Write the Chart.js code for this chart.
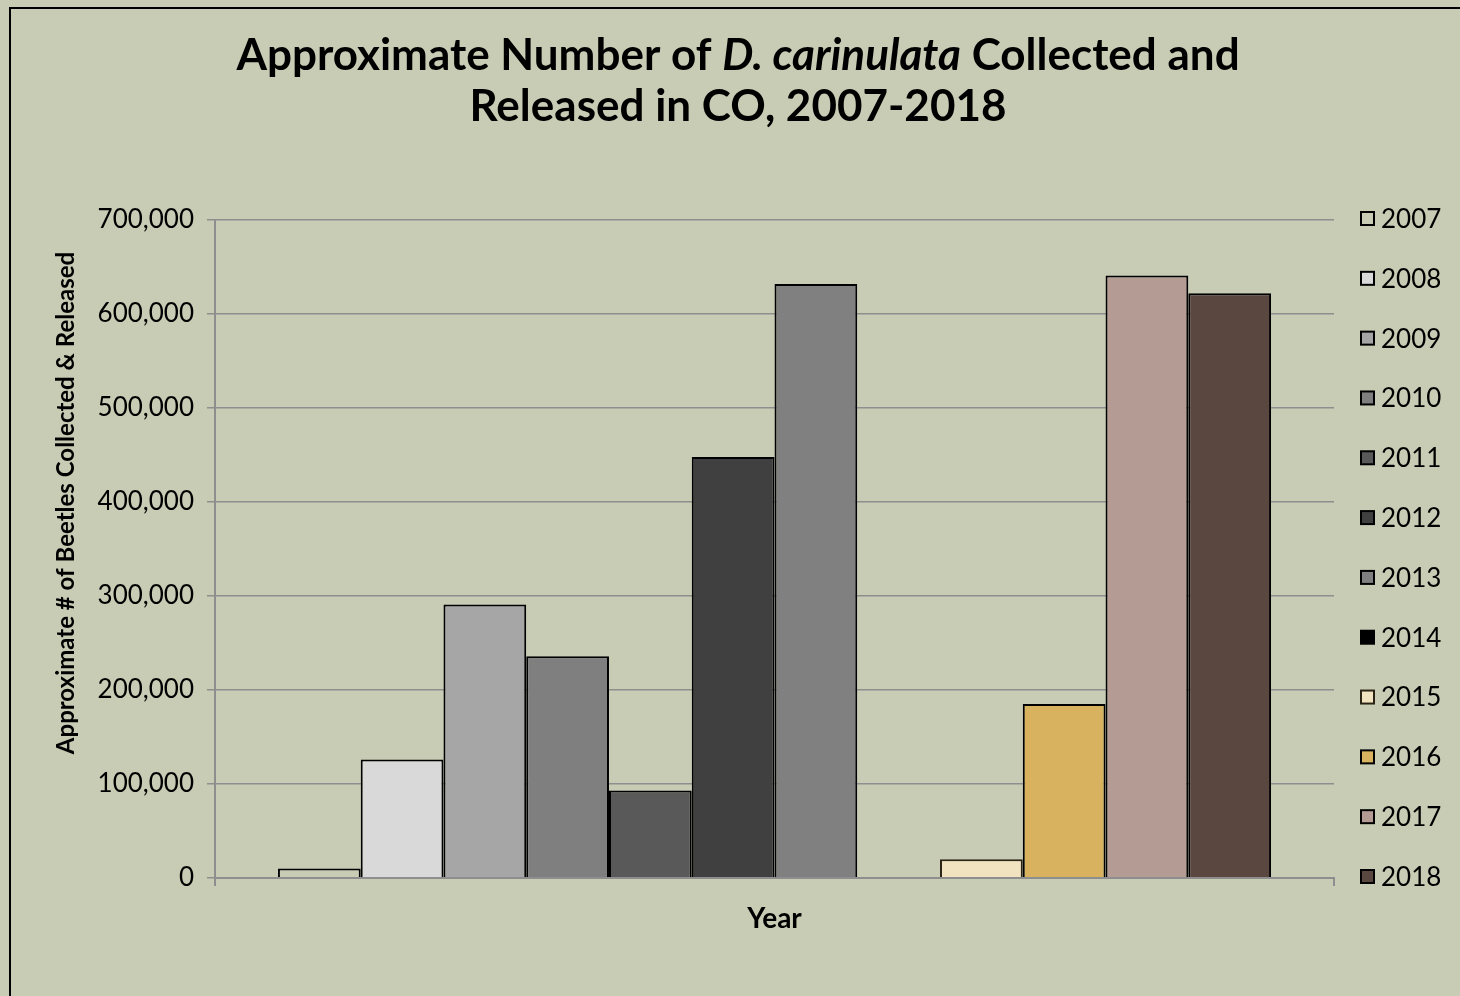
<!DOCTYPE html>
<html>
<head>
<meta charset="utf-8">
<script src="https://cdn.jsdelivr.net/npm/chart.js@4/dist/chart.umd.min.js"></script>
<style>
  html, body { margin: 0; padding: 0; background: #c9ccb4; overflow: hidden; width: 1460px; height: 996px; }
  .frame {
    position: absolute; left: 9px; top: 7px; width: 1460px; height: 996px;
    border-left: 2px solid #000; border-top: 2px solid #000;
  }
  .chart-wrapper { position: absolute; left: 0; top: 0; width: 1460px; height: 996px; }
</style>
</head>
<body>
<div class="frame"></div>
<div class="chart-wrapper"><canvas id="beetles"></canvas></div>
<script>
const years = ['2007', '2008', '2009', '2010', '2011', '2012', '2013', '2014', '2015', '2016', '2017', '2018'];
const beetleCounts = [10000, 126000, 291000, 236000, 93000, 448000, 632000, 0, 20000, 185000, 641000, 622000];
const fillColors = ['#c9ccb4', '#d9d9d9', '#a6a6a6', '#7f7f7f', '#595959', '#404040', '#808080', '#000000', '#f1e2c0', '#d8b25e', '#b49b94', '#5a4740'];
const edgeColors = ['#000', '#000', '#000', '#000', '#000', '#000', '#000', '#000', '#2b2416', '#000', '#000', '#000'];
const yTicks = [0, 100000, 200000, 300000, 400000, 500000, 600000, 700000];

const FONT = "Lato, 'DejaVu Sans', sans-serif";
const GRID = '#8e8e8e';

// title with the italic species name, y axis title and the year key on the right
const decorations = {
  id: 'decorations',
  afterDraw(chart) {
    const { ctx, chartArea } = chart;
    ctx.save();
    ctx.fillStyle = '#000';
    ctx.textBaseline = 'alphabetic';

    const bold = `bold 44px ${FONT}`;
    const boldItalic = `italic bold 44px ${FONT}`;
    const parts = [
      [bold, 'Approximate Number of '],
      [boldItalic, 'D. carinulata'],
      [bold, ' Collected and'],
    ];
    let total = 0;
    parts.forEach(([f, t]) => { ctx.font = f; total += ctx.measureText(t).width; });
    let x = 738 - total / 2;
    parts.forEach(([f, t]) => {
      ctx.font = f;
      ctx.textAlign = 'left';
      ctx.fillText(t, x, 70);
      x += ctx.measureText(t).width;
    });
    ctx.font = bold;
    ctx.textAlign = 'center';
    ctx.fillText('Released in CO, 2007-2018', 738, 121);

    // rotated y axis title
    ctx.save();
    ctx.translate(66, 503);
    ctx.rotate(-Math.PI / 2);
    ctx.font = `bold 24px ${FONT}`;
    ctx.textAlign = 'center';
    ctx.textBaseline = 'middle';
    ctx.fillText('Approximate # of Beetles Collected & Released', 0, 0);
    ctx.restore();

    // legend, spread over the height of the plot
    const step = (chartArea.bottom - chartArea.top) / (chart.data.datasets.length - 1);
    ctx.font = `26px ${FONT}`;
    ctx.textAlign = 'left';
    ctx.textBaseline = 'middle';
    chart.data.datasets.forEach((ds, i) => {
      const y = chartArea.top - 1.5 + i * step;
      ctx.fillStyle = ds.backgroundColor;
      ctx.fillRect(1361, y - 6.5, 13, 13);
      ctx.strokeStyle = ds.borderColor;
      ctx.lineWidth = 2;
      ctx.strokeRect(1361, y - 6.5, 13, 13);
      ctx.fillStyle = '#000';
      ctx.fillText(ds.label, 1381, y + 1);
    });
    ctx.restore();
  },
};

const ctx = document.getElementById('beetles').getContext('2d');
new Chart(ctx, {
  type: 'bar',
  data: {
    labels: [''],
    datasets: years.map((year, i) => ({
      label: year,
      data: [beetleCounts[i]],
      backgroundColor: fillColors[i],
      borderColor: edgeColors[i],
      borderWidth: 2,
      categoryPercentage: 0.8875,
      barPercentage: 1,
    })),
  },
  options: {
    responsive: true,
    maintainAspectRatio: false,
    animation: false,
    layout: { padding: { left: 0, top: 220, right: 126, bottom: 0 } },
    plugins: {
      legend: { display: false },
      title: { display: false },
      tooltip: { enabled: false },
    },
    scales: {
      x: {
        ticks: { display: false },
        grid: { drawOnChartArea: false, color: GRID, lineWidth: 2, tickLength: 8 },
        border: { color: GRID, width: 2, z: 1 },
        title: {
          display: true,
          text: 'Year',
          color: '#000',
          font: { family: FONT, size: 28, weight: 'bold' },
          padding: { top: 0, bottom: 60 },
        },
        afterFit(scale) { scale.height = 118; },
      },
      y: {
        min: 0,
        max: 700000,
        afterBuildTicks(scale) { scale.ticks = yTicks.map((v) => ({ value: v })); },
        ticks: {
          color: '#000',
          padding: 13,
          font: { family: FONT, size: 26 },
          callback: (v) => v.toLocaleString('en-US'),
        },
        grid: { color: GRID, lineWidth: 1.5, tickLength: 8 },
        border: { color: GRID, width: 2 },
        afterFit(scale) { scale.width = 215; },
      },
    },
  },
  plugins: [decorations],
});
</script>
</body>
</html>
